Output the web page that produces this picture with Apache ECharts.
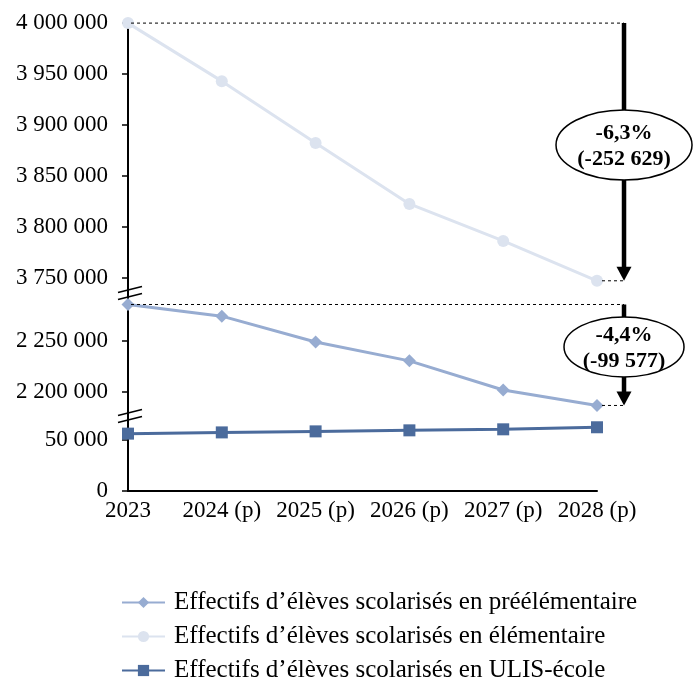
<!DOCTYPE html>
<html>
<head>
<meta charset="utf-8">
<script src="https://cdn.jsdelivr.net/npm/echarts@6/dist/echarts.min.js"></script>
<style>html,body{margin:0;padding:0;background:#fff}#c{width:694px;height:698px}</style>
</head>
<body>
<div id="c"></div>
<script>
const categories = ['2023', '2024 (p)', '2025 (p)', '2026 (p)', '2027 (p)', '2028 (p)'];
const preelementaire = [2286000, 2274500, 2249000, 2230400, 2201700, 2186423];
const elementaire = [3999900, 3943000, 3882300, 3822600, 3786300, 3747271];
const ulis = [55800, 57000, 58000, 59000, 60000, 62000];
const seriesNames = [
  'Effectifs d\u2019élèves scolarisés en préélémentaire',
  'Effectifs d\u2019élèves scolarisés en élémentaire',
  'Effectifs d\u2019élèves scolarisés en ULIS-école'
];
const ticksTop = [3750000, 3800000, 3850000, 3900000, 3950000, 4000000];
const ticksMid = [2200000, 2250000];
const ticksLow = [0, 50000];

const FONT = 'Liberation Serif';
const fmt = v => String(Math.round(v)).replace(/\B(?=(\d{3})+(?!\d))/g, ' ');
const colPre = '#97ACD1', colElem = '#DCE3EF', colUlis = '#4B6B9C';

const chart = echarts.init(document.getElementById('c'), null, {renderer: 'canvas'});

function yAxis(gi, min, max, ticks) {
  return {
    type: 'value', gridIndex: gi, min: min, max: max,
    splitLine: {show: false},
    axisLine: {show: true, onZero: false, lineStyle: {color: '#000', width: 2}},
    axisTick: {show: true, inside: false, length: 6, customValues: ticks, lineStyle: {color: '#000', width: 1.5}},
    axisLabel: {show: true, customValues: ticks, margin: 20, formatter: fmt,
      fontFamily: FONT, fontSize: 23, color: '#000'}
  };
}
function xAxis(gi, show) {
  return {
    type: 'category', gridIndex: gi, data: categories, boundaryGap: false,
    axisLine: {show: show, lineStyle: {color: '#000', width: 2}},
    axisTick: {show: false},
    axisLabel: {show: show, margin: 8, fontFamily: FONT, fontSize: 23, color: '#000', interval: 0},
    splitLine: {show: false}
  };
}

chart.setOption({
  animation: false,
  backgroundColor: '#fff',
  grid: [
    {left: 128, right: 97, top: 23, height: 270},
    {left: 128, right: 97, top: 293, height: 123},
    {left: 128, right: 97, top: 416, height: 75}
  ],
  xAxis: [xAxis(0, false), xAxis(1, false), xAxis(2, true)],
  yAxis: [
    yAxis(0, 3735294, 4000000, ticksTop),
    yAxis(1, 2176036, 2297337, ticksMid),
    yAxis(2, 0, 72957, ticksLow)
  ],
  legend: {
    orient: 'vertical', left: 116, top: 585,
    itemWidth: 43, itemHeight: 14, itemGap: 9,
    textStyle: {fontFamily: FONT, fontSize: 25, color: '#000', lineHeight: 23, padding: [0, 0, 0, 4]},
    data: seriesNames
  },
  series: [
    {name: seriesNames[0], type: 'line', xAxisIndex: 1, yAxisIndex: 1, data: preelementaire,
      symbol: 'diamond', symbolSize: 13, lineStyle: {color: colPre, width: 3}, itemStyle: {color: colPre}, z: 3},
    {name: seriesNames[1], type: 'line', xAxisIndex: 0, yAxisIndex: 0, data: elementaire,
      symbol: 'circle', symbolSize: 12, lineStyle: {color: colElem, width: 3}, itemStyle: {color: colElem}, z: 2},
    {name: seriesNames[2], type: 'line', xAxisIndex: 2, yAxisIndex: 2, data: ulis,
      symbol: 'rect', symbolSize: 12, lineStyle: {color: colUlis, width: 3}, itemStyle: {color: colUlis}, z: 4}
  ]
});

function px(gi, i, v) { return chart.convertToPixel({gridIndex: gi}, [i, v]); }
const n = categories.length - 1;
const p0 = px(0, 0, elementaire[0]);
const p1 = px(0, 1, elementaire[1]);
const step = p1[0] - p0[0];
const x0 = p0[0];
const xL = px(0, n, elementaire[n])[0];
const ax = xL + step * 0.288;
const yT1 = p0[1], yB1 = px(0, n, elementaire[n])[1];
const yT2 = px(1, 0, preelementaire[0])[1], yB2 = px(1, n, preelementaire[n])[1];

function pctText(a, b) {
  const d = b - a;
  const pct = (d / a * 100).toFixed(1).replace('.', ',');
  return pct + '%\n(-' + fmt(Math.abs(d)) + ')';
}

const dash = {stroke: '#000', lineWidth: 1, lineDash: [3, 3]};
const g = [];
function line(x1, y1, x2, y2, style) { g.push({type: 'line', shape: {x1, y1, x2, y2}, style, z: 50}); }
line(x0 + 3, yT1, ax, yT1, dash);
line(xL + 5, yB1, ax, yB1, dash);
line(x0 + 3, yT2, ax, yT2, dash);
line(xL + 5, yB2, ax, yB2, dash);
// break marks
[293, 416].forEach(function (yc) {
  line(118, yc - 0.5, 142, yc - 6.5, {stroke: '#000', lineWidth: 1.5});
  line(118, yc + 6.5, 142, yc + 0.5, {stroke: '#000', lineWidth: 1.5});
});
function arrow(yA, yB, cyFrac, rx, ry, text) {
  const head = 14;
  line(ax, yA, ax, yB - head + 1, {stroke: '#000', lineWidth: 4.5});
  g.push({type: 'polygon', shape: {points: [[ax - 7.5, yB - head], [ax + 7.5, yB - head], [ax, yB]]}, style: {fill: '#000'}, z: 51});
  const cy = yA + (yB - yA) * cyFrac;
  g.push({type: 'ellipse', shape: {cx: ax, cy: cy, rx: rx, ry: ry}, style: {fill: '#fff', stroke: '#000', lineWidth: 1.5}, z: 52});
  g.push({type: 'text', x: ax, y: cy + 1, style: {text: text, fontFamily: FONT, fontWeight: 'bold', fontSize: 22, lineHeight: 26,
    fill: '#000', align: 'center', verticalAlign: 'middle'}, z: 53});
}
arrow(yT1, yB1, 0.473, 68, 35, pctText(elementaire[0], elementaire[n]));
arrow(yT2, yB2, 0.42, 60, 30, pctText(preelementaire[0], preelementaire[n]));

chart.setOption({graphic: {elements: g}});
</script>
</body>
</html>
